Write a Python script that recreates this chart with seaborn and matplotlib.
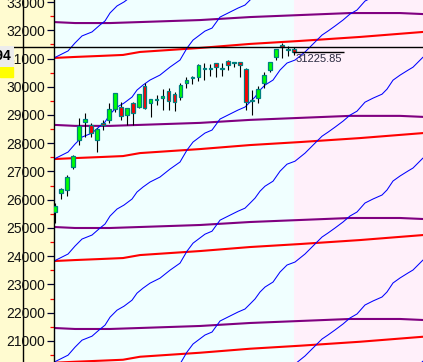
import matplotlib
matplotlib.use("Agg")
import matplotlib.pyplot as plt
from matplotlib.lines import Line2D
from matplotlib.patches import Rectangle
from matplotlib.ticker import MultipleLocator, FixedLocator
import pandas as pd
import seaborn as sns

# ---------------- data ----------------
opens = [25566, 26238, 26345, 27159, 28115, 28752, 28646, 28115, 28717, 28823,
         29212, 29283, 28999, 29425, 29283, 30027, 29425, 29531, 29602, 29850,
         29743, 29637, 30133, 30310, 30345, 30628, 30628, 30841, 30664, 30911,
         30841, 30876, 30628, 29495, 29602, 30133, 30593, 31053, 31478, 31301,
         31336]
highs = [25885, 26416, 26876, 27584, 28894, 29071, 28717, 28539, 28823, 29425,
         29779, 29460, 29248, 29460, 29743, 30133, 29566, 29708, 29920, 29956,
         29814, 30133, 30345, 30381, 30805, 30841, 30805, 30841, 30841, 30947,
         30876, 30876, 30664, 29885, 30027, 30522, 30876, 31336, 31549, 31442,
         31407]
lows = [25176, 26026, 26133, 27088, 27938, 28221, 28221, 27690, 28469, 28717,
        29106, 28823, 28646, 28646, 29248, 29212, 28929, 29354, 29177, 29177,
        29141, 29531, 29956, 30097, 30203, 30239, 30381, 30345, 30381, 30593,
        30699, 30345, 29177, 28999, 29425, 29956, 30522, 30947, 31018, 31088,
        31124]
closes = [25778, 26380, 26805, 27548, 28610, 28858, 28363, 28504, 28646, 29212,
          29779, 28964, 29248, 29071, 29743, 29248, 29566, 29566, 29672, 29495,
          29460, 30062, 30239, 30345, 30770, 30664, 30664, 30699, 30628, 30770,
          30841, 30770, 29460, 29531, 29920, 30416, 30876, 31336, 31407, 31336,
          31225.85]

last_price = 31225.85
last_label = "31225.85"
ref_level = 31394
ref_label = "31394"

# overlay curves: x in bar units, offsets in index points
blue_x = [-0.17, 2.18, 3.35, 4.52, 6.19, 7.53, 8.37, 9.21, 10.38, 11.55, 12.89,
          13.72, 14.73, 15.90, 17.57, 19.25, 20.92, 22.09, 23.10, 25.10, 26.28,
          27.62, 29.29, 30.63, 31.80, 32.64, 33.47, 34.31, 35.15, 36.49, 37.66,
          38.83, 40.17, 41.84, 43.18, 44.69, 45.69, 46.86, 48.20, 49.37, 50.54,
          51.88, 53.22, 54.73, 55.56, 56.57, 57.74, 59.08, 59.92, 61.09, 61.59]
blue_profile = [0, 248, 531, 779, 920, 1168, 1310, 1593, 1841, 1982,
                2195, 2443, 2620, 2797, 2974, 3257, 3505, 3929, 4213,
                4531, 4637, 5027, 5204, 5345, 5452, 5629, 5806, 6053,
                6230, 6407, 6761, 7009, 7115, 7399, 7682, 8000, 8142,
                8319, 8531, 8744, 8885, 9204, 9346, 9487, 9664, 9983,
                10160, 10337, 10443, 10691, 10797]
blue_bases = [31020, 27440, 23830, 20250, 16680, 13070, 9490]

red_x = [-0.17, 3.35, 7.53, 11.38, 14.23, 24.27, 32.64, 41.0, 51.05, 61.59]
red_profile = [0, 35, 71, 106, 212, 354, 496, 602, 743, 920]
red_bases = [31020, 27440, 23830, 20230]

purple_x = [-0.17, 3.35, 9.21, 14.23, 24.27, 32.64, 41.0, 49.37, 57.74, 61.59]
purple_profile = [0, -35, -35, 0, 71, 177, 248, 319, 319, 283]
purple_bases = [32290, 28650, 25035, 21460]

yticks = list(range(21000, 33001, 1000))
future_start = 39.92

# ---------------- style ----------------
sns.set_style("white")
plt.rcParams['font.family'] = ['Liberation Sans', 'DejaVu Sans']

W, H = 423, 362
fig = plt.figure(figsize=(W / 100, H / 100), dpi=100, facecolor='#FFFBD0')
ax = fig.add_axes([54 / W, 0, 1 - 54 / W, 1])
ax.set_facecolor('#F0FFFF')

x_lo, x_hi = -0.17, 61.59
y_lo, y_hi = 20256, 33071
ax.set_xlim(x_lo, x_hi)
ax.set_ylim(y_lo, y_hi)

ax.axvspan(future_start, x_hi, color='#FFF0FA', zorder=0, lw=0)


def curves(xs, prof, bases, tag):
    rows = []
    for k, b in enumerate(bases):
        for x, p in zip(xs, prof):
            rows.append({'x': x, 'v': b + p, 'line': f'{tag}{k}'})
    return pd.DataFrame(rows)


sns.lineplot(data=curves(purple_x, purple_profile, purple_bases, 'p'), x='x', y='v',
             units='line', estimator=None, sort=False, color='#800080', lw=1.5,
             ax=ax, legend=False, zorder=1)
sns.lineplot(data=curves(red_x, red_profile, red_bases, 'r'), x='x', y='v',
             units='line', estimator=None, sort=False, color='#FF0000', lw=1.5,
             ax=ax, legend=False, zorder=1)
sns.lineplot(data=curves(blue_x, blue_profile, blue_bases, 'b'), x='x', y='v',
             units='line', estimator=None, sort=False, color='#0000FF', lw=0.75,
             ax=ax, legend=False, zorder=2)

# candles
xs = list(range(len(opens)))
ax.vlines(xs, lows, highs, color='black', lw=0.8, zorder=3)
for i, (o, c) in enumerate(zip(opens, closes)):
    up = c >= o
    bottom = min(o, c)
    height = max(abs(c - o), 25)
    ax.bar(i, height, bottom=bottom, width=0.62,
           color='#00FF00' if up else '#FF0000',
           edgecolor='#008080', linewidth=0.9, zorder=4)

# reference horizontal line (spans the axis panel too)
ax.axhline(ref_level, xmin=-54 / (W - 54), xmax=1, color='black', lw=1.0,
           clip_on=False, zorder=5)

# last price marker
ax.hlines(last_price, 39.8, 48.4, color='black', lw=1.0, zorder=5)
ax.text(40.3, last_price - 55, last_label, ha='left', va='top', fontsize=8,
        color='#2a2a40', zorder=6)

# axis styling
for s in ['top', 'right', 'bottom']:
    ax.spines[s].set_visible(False)
ax.spines['left'].set_color('black')
ax.spines['left'].set_linewidth(1.0)
ax.set_xticks([])
ax.set_xlabel('')
ax.set_ylabel('')
ax.yaxis.set_major_locator(FixedLocator(yticks))
ax.set_yticklabels([str(t) for t in yticks])
ax.yaxis.set_minor_locator(MultipleLocator(500))
ax.tick_params(axis='y', which='major', length=5, width=0.9, color='#000030',
               pad=1.5, labelsize=10, labelcolor='#111111', left=True)
ax.tick_params(axis='y', which='minor', length=3, width=0.9, color='#FF0000', left=True)

# vertical line in the axis panel
fig.add_artist(Line2D([23 / W, 23 / W], [0, 1], transform=fig.transFigure,
                      color='black', lw=1.0, zorder=-1))

# price tags on the left edge
fig.text(11 / W, 1 - 56.5 / H, ref_label, ha='right', va='center', fontsize=10,
         fontweight='bold', color='black', zorder=10,
         bbox=dict(facecolor='#ECECEC', edgecolor='none', pad=2.2))
fig.add_artist(Rectangle((0, 1 - 77 / H), 13 / W, 10 / H, transform=fig.transFigure,
                         color='#FFFF00', zorder=10))

fig.savefig('out.png', dpi=100, facecolor=fig.get_facecolor())
